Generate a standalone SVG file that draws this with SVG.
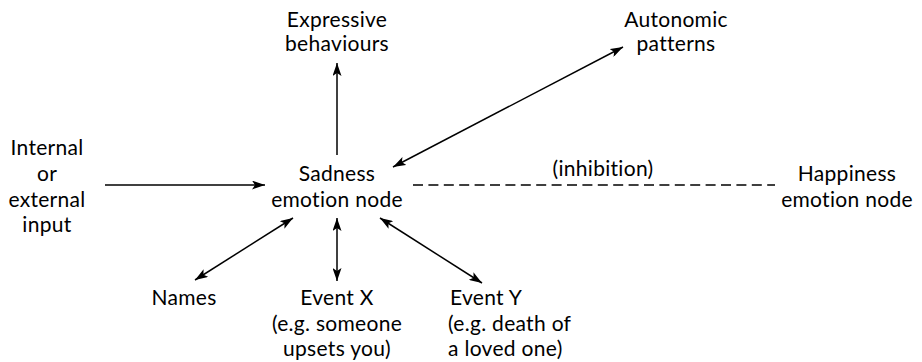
<svg xmlns="http://www.w3.org/2000/svg" width="922" height="362" viewBox="0 0 922 362">
<style>
text{font-family:Lato,"Open Sans","Liberation Sans",sans-serif;font-size:21px;letter-spacing:0.3px;fill:#000}
.c{text-anchor:middle}
.l{stroke:#000;stroke-width:1.5;fill:none}
.d{stroke:#000;stroke-width:1.5;fill:none;stroke-dasharray:10 5.4}
</style>
<defs>
<marker id="ah" viewBox="0 0 13 9" refX="13" refY="4.5" markerWidth="13" markerHeight="9" markerUnits="userSpaceOnUse" orient="auto-start-reverse">
<path d="M0,0 L13,4.5 L0,9 L3,4.5 z" fill="#000"/>
</marker>
</defs>
<rect width="922" height="362" fill="#fff"/>
<g id="connectors">
<line class="l" x1="337" y1="155" x2="337" y2="63" marker-end="url(#ah)"/>
<line class="l" x1="393" y1="167" x2="623" y2="47" marker-start="url(#ah)" marker-end="url(#ah)"/>
<line class="l" x1="105" y1="185" x2="265" y2="185" marker-end="url(#ah)"/>
<line class="d" x1="413" y1="185" x2="775" y2="185"/>
<line class="l" x1="293" y1="218" x2="195" y2="280" marker-start="url(#ah)" marker-end="url(#ah)"/>
<line class="l" x1="337" y1="218" x2="337" y2="281" marker-start="url(#ah)" marker-end="url(#ah)"/>
<line class="l" x1="380" y1="218" x2="482" y2="283" marker-start="url(#ah)" marker-end="url(#ah)"/>
<text class="c" x="603" y="176">(inhibition)</text>
</g>
<g id="expressive"><text class="c" x="337" y="27">Expressive</text><text class="c" x="337" y="51">behaviours</text></g>
<g id="autonomic"><text class="c" x="676" y="27">Autonomic</text><text class="c" x="676" y="51">patterns</text></g>
<g id="input"><text class="c" x="47" y="155">Internal</text><text class="c" x="47" y="181">or</text><text class="c" x="47" y="207">external</text><text class="c" x="47" y="232">input</text></g>
<g id="sadness"><text class="c" x="337" y="181">Sadness</text><text class="c" x="337" y="207">emotion node</text></g>
<g id="happiness"><text class="c" x="847" y="181">Happiness</text><text class="c" x="847" y="207">emotion node</text></g>
<g id="names"><text class="c" x="184" y="305">Names</text></g>
<g id="eventx"><text class="c" x="337" y="305">Event X</text><text class="c" x="337" y="331">(e.g. someone</text><text class="c" x="337" y="356">upsets you)</text></g>
<g id="eventy"><text x="450" y="305">Event Y</text><text x="448" y="331">(e.g. death of</text><text x="448" y="356">a loved one)</text></g>
</svg>
